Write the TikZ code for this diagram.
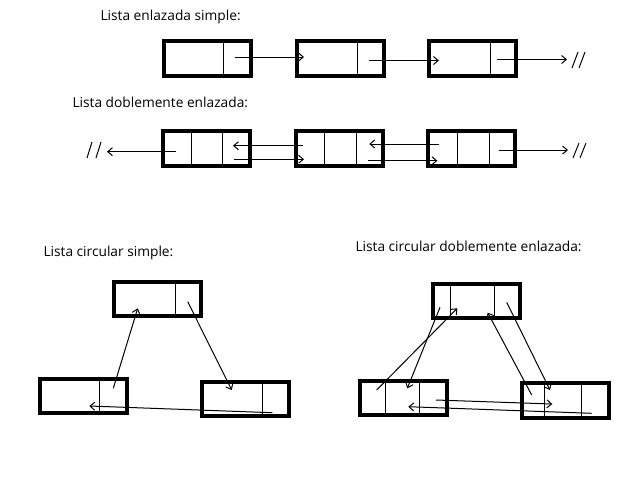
\documentclass[tikz,border=0pt]{standalone}
\usepackage{fontspec}
\setmainfont{Open Sans}
\usetikzlibrary{arrows.meta,positioning,calc}

\tikzset{
  nodo/.style={draw, line width=3pt, inner sep=0pt, outer sep=0pt,
    minimum width=65.25pt, minimum height=25.9pt},
  titulo/.style={anchor=base west, inner sep=0pt, font=\fontsize{10.3}{12}\selectfont},
  enlace/.style={-{Straight Barb[length=3.5pt,width=6pt]}},
}
\newcommand{\celda}[2]{\draw ($(#1.north)+(#2,0)$) -- ($(#1.south)+(#2,0)$);}

\begin{document}
\begin{tikzpicture}[x=0.75pt, y=-0.75pt, line width=0.75pt]
\useasboundingbox (0,0) rectangle (640,480);

% lista enlazada simple
\node[titulo] (t1) at (100,20) {Lista enlazada simple:};
\node[nodo] (s1) at (207.8,58.5) {};
\node[nodo] (s2) at (340,58.5) {};
\node[nodo] (s3) at (472.9,58.5) {};
\celda{s1}{15.5} \celda{s2}{17} \celda{s3}{18}
\coordinate (fin1) at (567,59.5);
\draw[enlace] ($(s1)+(27.2,-1.5)$) -- ($(s2)+(-36,-1.5)$);
\draw[enlace] ($(s2)+(29,2)$) -- ($(s3)+(-34,2)$);
\draw[enlace] ($(s3)+(24,1)$) -- (fin1);
\draw (572,68) -- (578,52) (579,68) -- (585,52);

% lista doblemente enlazada
\node[titulo] (t2) at (72,107) {Lista doblemente enlazada:};
\node[nodo] (d1) at (206.3,148.5) {};
\node[nodo] (d2) at (339,148.5) {};
\node[nodo] (d3) at (471.7,148.5) {};
\celda{d1}{-14.8} \celda{d1}{15.7}
\celda{d2}{-14.3} \celda{d2}{17.3}
\celda{d3}{-14.2} \celda{d3}{17.3}
\coordinate (ini2) at (107,151.7);
\coordinate (fin2) at (568,150);
\draw[enlace] ($(d1)+(-30.3,3.2)$) -- (ini2);
\draw[enlace] ($(d2)+(-36.3,-2.8)$) -- ($(d1)+(26.7,-2.8)$);
\draw[enlace] ($(d1)+(27.7,10.8)$) -- ($(d2)+(-35,10.8)$);
\draw[enlace] ($(d3)+(-32.7,-4.5)$) -- ($(d2)+(30.3,-4.5)$);
\draw[enlace] ($(d2)+(28.7,12.2)$) -- ($(d3)+(-34.4,12.2)$);
\draw[enlace] ($(d3)+(27.3,1.5)$) -- (fin2);
\draw (87,158) -- (92,142) (96,158) -- (101,142);
\draw (573,158) -- (579,143) (580,158) -- (586,143);

% lista circular simple
\node[titulo] (t3) at (43,256) {Lista circular simple:};
\node[nodo] (cs1) at (157.5,299.2) {};
\node[nodo] (cs2) at (245,399.2) {};
\node[nodo] (cs3) at (83.7,396.2) {};
\celda{cs1}{18.2} \celda{cs2}{17.3} \celda{cs3}{15.6}
\draw[enlace] ($(cs1)+(30.2,2.5)$) -- ($(cs2)+(-13.3,-9.2)$);
\draw[enlace] ($(cs2)+(27.3,13.5)$) -- ($(cs3)+(5.6,9.8)$);
\draw[enlace] ($(cs3)+(29.6,-7.9)$) -- ($(cs1)+(-19.8,9.1)$);

% lista circular doblemente enlazada
\node[titulo] (t4) at (355,251) {Lista circular doblemente enlazada:};
\node[nodo] (cd1) at (476.7,300.8) {};
\node[nodo] (cd2) at (403.2,397.8) {};
\node[nodo] (cd3) at (565,400.5) {};
\celda{cd1}{-26} \celda{cd1}{17.6}
\celda{cd2}{-17.5} \celda{cd2}{15.8}
\celda{cd3}{-21} \celda{cd3}{16.7}
\draw[enlace] ($(cd1)+(-36.7,6.5)$) -- ($(cd2)+(4.1,-9.5)$);
\draw[enlace] ($(cd2)+(-26.5,-7.8)$) -- ($(cd1)+(-19.4,7.5)$);
\draw[enlace] ($(cd1)+(30,1.5)$) -- ($(cd3)+(-15,-10.5)$);
\draw[enlace] ($(cd3)+(-33.3,-5.5)$) -- ($(cd1)+(11,11.9)$);
\draw[enlace] ($(cd2)+(32.8,2.2)$) -- ($(cd3)+(-12.7,3.5)$);
\draw[enlace] ($(cd3)+(26.7,12.8)$) -- ($(cd2)+(5.1,8.9)$);
\end{tikzpicture}
\end{document}
